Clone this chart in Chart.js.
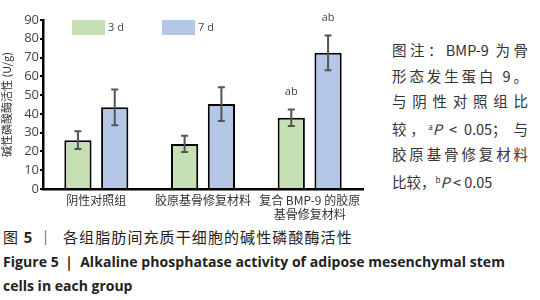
<!DOCTYPE html>
<html lang="zh">
<head>
<meta charset="UTF-8">
<title>Figure 5</title>
<script src="https://cdn.jsdelivr.net/npm/chart.js"></script>
<style>
    body { margin: 0; width: 540px; height: 300px; background: #fff; position: relative; overflow: hidden;
           font-family: "Noto Sans CJK SC", "Open Sans", sans-serif; color: #333; }
    #wrap { position: absolute; left: 0; top: 0; width: 370px; height: 225px; }
    .note { position: absolute; left: 392px; width: 136px; font-size: 14.5px; line-height: 25.5px; top: 37px; color: #333; }
    .note div { white-space: nowrap; }
    .note .j { text-align: justify; text-align-last: justify; }
    .note sup { font-size: 8px; vertical-align: 5px; }
    .cap { position: absolute; left: 3px; white-space: nowrap; color: #222; }
    .cap1 { top: 226px; font-size: 15px; letter-spacing: 1.1px; }
    .cap2 { top: 252px; font-size: 14px; font-weight: bold; font-family: "Open Sans", sans-serif; letter-spacing: 0.05px; }
    .cap3 { top: 276px; font-size: 14px; font-weight: bold; font-family: "Open Sans", sans-serif; }
</style>
</head>
<body>
<div id="wrap"><canvas id="alpChart"></canvas></div>

<div class="note">
    <div class="j">图注：BMP-9 为骨</div>
    <div class="j">形态发生蛋白 9。</div>
    <div class="j">与阴性对照组比</div>
    <div class="j">较，<sup>a</sup><i>P</i> &lt; 0.05；&nbsp;与</div>
    <div class="j">胶原基骨修复材料</div>
    <div>比较，<sup>b</sup><i>P</i> &lt; 0.05</div>
</div>

<div class="cap cap1">图 <b>5</b> ｜&nbsp; 各组脂肪间充质干细胞的碱性磷酸酶活性</div>
<div class="cap cap2">Figure 5 ｜ Alkaline phosphatase activity of adipose mesenchymal stem</div>
<div class="cap cap3">cells in each group</div>

<script>
// data
const groups = [['阴性对照组'], ['胶原基骨修复材料'], ['复合 BMP-9 的胶原', '基骨修复材料']];
const seriesNames = ['3 d', '7 d'];
const day3 = [26, 24, 38];
const day3Err = [4.7, 4.3, 4.4];
const day7 = [43.5, 45.2, 72.5];
const day7Err = [9.5, 9.0, 9.3];
const day3Sig = ['', '', 'ab'];
const day7Sig = ['', '', 'ab'];
const yTicks = [0, 10, 20, 30, 40, 50, 60, 70, 80, 90];

const errs = [day3Err, day7Err];
const sigs = [day3Sig, day7Sig];

// error bars, significance letters and the legend inside the plot
const extras = {
    id: 'extras',
    afterDatasetsDraw(chart) {
        const ctx = chart.ctx;
        const y = chart.scales.y;
        ctx.save();
        chart.data.datasets.forEach((ds, i) => {
            const meta = chart.getDatasetMeta(i);
            meta.data.forEach((bar, j) => {
                const v = ds.data[j], e = errs[i][j];
                const top = y.getPixelForValue(v + e), bot = y.getPixelForValue(v - e);
                ctx.strokeStyle = '#555';
                ctx.lineWidth = 2;
                ctx.beginPath();
                ctx.moveTo(bar.x, top); ctx.lineTo(bar.x, bot);
                ctx.moveTo(bar.x - 3.5, top); ctx.lineTo(bar.x + 3.5, top);
                ctx.moveTo(bar.x - 3.5, bot); ctx.lineTo(bar.x + 3.5, bot);
                ctx.stroke();
                if (sigs[i][j]) {
                    ctx.fillStyle = '#444';
                    ctx.font = '11px "Open Sans", sans-serif';
                    ctx.textAlign = 'center';
                    ctx.textBaseline = 'bottom';
                    ctx.fillText(sigs[i][j], bar.x, top - 12);
                }
            });
        });
        // legend
        const a = chart.chartArea;
        chart.data.datasets.forEach((ds, i) => {
            const lx = a.left + 29 + i * 90, ly = a.top;
            ctx.fillStyle = ds.backgroundColor;
            ctx.fillRect(lx, ly, 33, 15);
            ctx.fillStyle = '#444';
            ctx.font = '11px "Open Sans", sans-serif';
            ctx.textAlign = 'left';
            ctx.textBaseline = 'middle';
            ctx.fillText(ds.label, lx + 36, ly + 8);
        });
        ctx.restore();
    }
};

new Chart(document.getElementById('alpChart'), {
    type: 'bar',
    data: {
        labels: groups,
        datasets: [
            { label: seriesNames[0], data: day3, backgroundColor: '#c6e0b4', borderColor: '#000', borderWidth: 2,
              categoryPercentage: 0.69, barPercentage: 0.74, borderSkipped: 'bottom' },
            { label: seriesNames[1], data: day7, backgroundColor: '#b4c7e7', borderColor: '#000', borderWidth: 2,
              categoryPercentage: 0.69, barPercentage: 0.74, borderSkipped: 'bottom' }
        ]
    },
    options: {
        responsive: true,
        maintainAspectRatio: false,
        animation: false,
        layout: { padding: { top: 20, right: 7, left: 0, bottom: 0 } },
        plugins: { legend: { display: false }, tooltip: { enabled: false } },
        scales: {
            x: {
                grid: { display: false, drawTicks: false },
                border: { color: '#000', width: 2.5 },
                ticks: { color: '#333', font: { size: 12, family: '"Noto Sans CJK SC", sans-serif' }, padding: 4,
                         maxRotation: 0, autoSkip: false },
                afterFit(s) { s.height = 36; }
            },
            y: {
                min: 0, max: 90,
                afterBuildTicks(s) { s.ticks = yTicks.map(v => ({ value: v })); },
                grid: { drawOnChartArea: false, drawTicks: true, tickLength: 3, color: '#000', lineWidth: 2 },
                border: { color: '#000', width: 2.5 },
                ticks: { color: '#444', font: { size: 13, family: '"Open Sans", sans-serif' }, padding: 1 },
                title: { display: true, text: '碱性磷酸酶活性 (U/g)', color: '#333',
                         font: { size: 11, family: '"Noto Sans CJK SC", sans-serif' }, padding: 0 },
                afterFit(s) { s.width = 43; }
            }
        }
    },
    plugins: [extras]
});
</script>
</body>
</html>
